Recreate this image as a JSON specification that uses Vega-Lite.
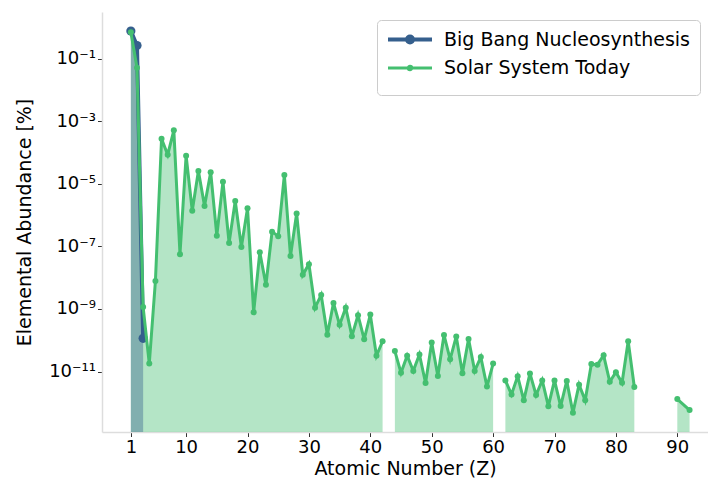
{
  "$schema": "https://vega.github.io/schema/vega-lite/v6.json",
  "autosize": "none",
  "width": 606,
  "height": 420,
  "padding": {"left": 102, "top": 12, "right": 0, "bottom": 50},
  "config": {
    "font": "DejaVu Sans",
    "view": {"stroke": null},
    "axis": {
      "grid": false,
      "domainColor": "#dddddd",
      "domainWidth": 1.5,
      "tickColor": "#333333",
      "tickSize": 4.5,
      "tickWidth": 1,
      "labelFontSize": 18,
      "labelColor": "#000000",
      "labelPadding": 2,
      "labelFlush": false,
      "labelOverlap": false,
      "titleFontSize": 19,
      "titleFontWeight": "normal",
      "titleColor": "#000000"
    },
    "legend": {
      "symbolSize": 100,
      "symbolStrokeWidth": 3,
      "labelFontSize": 19,
      "labelColor": "#000000",
      "labelLimit": 0,
      "labelOffset": 38,
      "rowPadding": 0.5,
      "padding": 10,
      "strokeColor": "#cccccc",
      "fillColor": "#ffffff",
      "cornerRadius": 4
    }
  },
  "datasets": {
    "abundance": [
      {"series": "Big Bang Nucleosynthesis", "Z": 1, "value": 0.76, "seg": "a"},
      {"series": "Big Bang Nucleosynthesis", "Z": 2, "value": 0.26, "seg": "a"},
      {"series": "Big Bang Nucleosynthesis", "Z": 3, "value": 1.15e-10, "seg": "a"},
      {"series": "Solar System Today", "Z": 1, "value": 0.69, "seg": "a"},
      {"series": "Solar System Today", "Z": 2, "value": 0.051, "seg": "a"},
      {"series": "Solar System Today", "Z": 3, "value": 1.15e-9, "seg": "a"},
      {"series": "Solar System Today", "Z": 4, "value": 1.8e-11, "seg": "a"},
      {"series": "Solar System Today", "Z": 5, "value": 7.8e-9, "seg": "a"},
      {"series": "Solar System Today", "Z": 6, "value": 2.75e-4, "seg": "a"},
      {"series": "Solar System Today", "Z": 7, "value": 8.5e-5, "seg": "a"},
      {"series": "Solar System Today", "Z": 8, "value": 5.1e-4, "seg": "a"},
      {"series": "Solar System Today", "Z": 9, "value": 5.6e-8, "seg": "a"},
      {"series": "Solar System Today", "Z": 10, "value": 7.9e-5, "seg": "a"},
      {"series": "Solar System Today", "Z": 11, "value": 1.38e-6, "seg": "a"},
      {"series": "Solar System Today", "Z": 12, "value": 2.57e-5, "seg": "a"},
      {"series": "Solar System Today", "Z": 13, "value": 1.95e-6, "seg": "a"},
      {"series": "Solar System Today", "Z": 14, "value": 2.34e-5, "seg": "a"},
      {"series": "Solar System Today", "Z": 15, "value": 2.2e-7, "seg": "a"},
      {"series": "Solar System Today", "Z": 16, "value": 1.17e-5, "seg": "a"},
      {"series": "Solar System Today", "Z": 17, "value": 1.29e-7, "seg": "a"},
      {"series": "Solar System Today", "Z": 18, "value": 2.8e-6, "seg": "a"},
      {"series": "Solar System Today", "Z": 19, "value": 9.5e-8, "seg": "a"},
      {"series": "Solar System Today", "Z": 20, "value": 1.66e-6, "seg": "a"},
      {"series": "Solar System Today", "Z": 21, "value": 7.8e-10, "seg": "a"},
      {"series": "Solar System Today", "Z": 22, "value": 6.5e-8, "seg": "a"},
      {"series": "Solar System Today", "Z": 23, "value": 5.9e-9, "seg": "a"},
      {"series": "Solar System Today", "Z": 24, "value": 2.95e-7, "seg": "a"},
      {"series": "Solar System Today", "Z": 25, "value": 2.1e-7, "seg": "a"},
      {"series": "Solar System Today", "Z": 26, "value": 1.9e-5, "seg": "a"},
      {"series": "Solar System Today", "Z": 27, "value": 4.9e-8, "seg": "a"},
      {"series": "Solar System Today", "Z": 28, "value": 1.12e-6, "seg": "a"},
      {"series": "Solar System Today", "Z": 29, "value": 1.23e-8, "seg": "a"},
      {"series": "Solar System Today", "Z": 30, "value": 2.7e-8, "seg": "a"},
      {"series": "Solar System Today", "Z": 31, "value": 1.1e-9, "seg": "a"},
      {"series": "Solar System Today", "Z": 32, "value": 2.8e-9, "seg": "a"},
      {"series": "Solar System Today", "Z": 33, "value": 1.5e-10, "seg": "a"},
      {"series": "Solar System Today", "Z": 34, "value": 1.55e-9, "seg": "a"},
      {"series": "Solar System Today", "Z": 35, "value": 3.1e-10, "seg": "a"},
      {"series": "Solar System Today", "Z": 36, "value": 1.1e-9, "seg": "a"},
      {"series": "Solar System Today", "Z": 37, "value": 1.35e-10, "seg": "a"},
      {"series": "Solar System Today", "Z": 38, "value": 6.3e-10, "seg": "a"},
      {"series": "Solar System Today", "Z": 39, "value": 1.07e-10, "seg": "a"},
      {"series": "Solar System Today", "Z": 40, "value": 6.6e-10, "seg": "a"},
      {"series": "Solar System Today", "Z": 41, "value": 3.2e-11, "seg": "a"},
      {"series": "Solar System Today", "Z": 42, "value": 9.3e-11, "seg": "a"},
      {"series": "Solar System Today", "Z": 44, "value": 4.5e-11, "seg": "b"},
      {"series": "Solar System Today", "Z": 45, "value": 9.1e-12, "seg": "b"},
      {"series": "Solar System Today", "Z": 46, "value": 3.2e-11, "seg": "b"},
      {"series": "Solar System Today", "Z": 47, "value": 1.05e-11, "seg": "b"},
      {"series": "Solar System Today", "Z": 48, "value": 3.5e-11, "seg": "b"},
      {"series": "Solar System Today", "Z": 49, "value": 4.3e-12, "seg": "b"},
      {"series": "Solar System Today", "Z": 50, "value": 8.5e-11, "seg": "b"},
      {"series": "Solar System Today", "Z": 51, "value": 7.2e-12, "seg": "b"},
      {"series": "Solar System Today", "Z": 52, "value": 1.48e-10, "seg": "b"},
      {"series": "Solar System Today", "Z": 53, "value": 2.45e-11, "seg": "b"},
      {"series": "Solar System Today", "Z": 54, "value": 1.32e-10, "seg": "b"},
      {"series": "Solar System Today", "Z": 55, "value": 8.9e-12, "seg": "b"},
      {"series": "Solar System Today", "Z": 56, "value": 1.1e-10, "seg": "b"},
      {"series": "Solar System Today", "Z": 57, "value": 1.05e-11, "seg": "b"},
      {"series": "Solar System Today", "Z": 58, "value": 2.9e-11, "seg": "b"},
      {"series": "Solar System Today", "Z": 59, "value": 3.3e-12, "seg": "b"},
      {"series": "Solar System Today", "Z": 60, "value": 1.8e-11, "seg": "b"},
      {"series": "Solar System Today", "Z": 62, "value": 5.2e-12, "seg": "c"},
      {"series": "Solar System Today", "Z": 63, "value": 1.86e-12, "seg": "c"},
      {"series": "Solar System Today", "Z": 64, "value": 7.1e-12, "seg": "c"},
      {"series": "Solar System Today", "Z": 65, "value": 1.2e-12, "seg": "c"},
      {"series": "Solar System Today", "Z": 66, "value": 8.7e-12, "seg": "c"},
      {"series": "Solar System Today", "Z": 67, "value": 1.78e-12, "seg": "c"},
      {"series": "Solar System Today", "Z": 68, "value": 5.2e-12, "seg": "c"},
      {"series": "Solar System Today", "Z": 69, "value": 7.8e-13, "seg": "c"},
      {"series": "Solar System Today", "Z": 70, "value": 5.2e-12, "seg": "c"},
      {"series": "Solar System Today", "Z": 71, "value": 7.9e-13, "seg": "c"},
      {"series": "Solar System Today", "Z": 72, "value": 5.0e-12, "seg": "c"},
      {"series": "Solar System Today", "Z": 73, "value": 4.8e-13, "seg": "c"},
      {"series": "Solar System Today", "Z": 74, "value": 3.8e-12, "seg": "c"},
      {"series": "Solar System Today", "Z": 75, "value": 1.2e-12, "seg": "c"},
      {"series": "Solar System Today", "Z": 76, "value": 1.74e-11, "seg": "c"},
      {"series": "Solar System Today", "Z": 77, "value": 1.66e-11, "seg": "c"},
      {"series": "Solar System Today", "Z": 78, "value": 3.3e-11, "seg": "c"},
      {"series": "Solar System Today", "Z": 79, "value": 4.7e-12, "seg": "c"},
      {"series": "Solar System Today", "Z": 80, "value": 9.5e-12, "seg": "c"},
      {"series": "Solar System Today", "Z": 81, "value": 4.4e-12, "seg": "c"},
      {"series": "Solar System Today", "Z": 82, "value": 9.3e-11, "seg": "c"},
      {"series": "Solar System Today", "Z": 83, "value": 3.2e-12, "seg": "c"},
      {"series": "Solar System Today", "Z": 90, "value": 1.32e-12, "seg": "d"},
      {"series": "Solar System Today", "Z": 92, "value": 5.9e-13, "seg": "d"}
    ]
  },
  "data": {"name": "abundance"},
  "encoding": {
    "x": {
      "field": "Z",
      "type": "quantitative",
      "scale": {"domain": [-3.7, 95], "nice": false, "zero": false},
      "axis": {"values": [1, 10, 20, 30, 40, 50, 60, 70, 80, 90], "title": "Atomic Number (Z)", "titlePadding": 3}
    },
    "y": {
      "field": "value",
      "type": "quantitative",
      "stack": null,
      "scale": {"type": "log", "domain": [1.17e-13, 3.08], "nice": false},
      "axis": {
        "values": [0.1, 0.001, 0.00001, 1e-7, 1e-9, 1e-11],
        "title": "Elemental Abundance [%]",
        "titlePadding": 14,
        "labelExpr": "datum.value > 0.05 ? '10⁻¹' : datum.value > 5e-4 ? '10⁻³' : datum.value > 5e-6 ? '10⁻⁵' : datum.value > 5e-8 ? '10⁻⁷' : datum.value > 5e-10 ? '10⁻⁹' : '10⁻¹¹'"
      }
    },
    "color": {
      "field": "series",
      "type": "nominal",
      "scale": {"domain": ["Big Bang Nucleosynthesis", "Solar System Today"], "range": ["#355f8d", "#44bf70"]},
      "legend": {
        "title": null,
        "orient": "none",
        "legendX": 275,
        "legendY": 8,
        "encode": {
          "symbols": {
            "update": {
              "shape": {"signal": "datum.value === 'Big Bang Nucleosynthesis' ? 'M-1.7,0H7.1M3.3,0A0.6,0.6,0,1,1,2.1,0A0.6,0.6,0,1,1,3.3,0ZM2.7,2.1' : 'M-1.7,0H7.1M3.05,0A0.35,0.35,0,1,1,2.35,0A0.35,0.35,0,1,1,3.05,0ZM2.7,2.1'"},
              "strokeWidth": {"signal": "datum.value === 'Big Bang Nucleosynthesis' ? 4 : 3"},
              "stroke": {"scale": "color", "field": "value"},
              "fill": {"scale": "color", "field": "value"},
              "opacity": {"value": 1},
              "fillOpacity": {"value": 1},
              "strokeOpacity": {"value": 1}
            }
          }
        }
      }
    }
  },
  "layer": [
    {
      "transform": [{"filter": "datum.series === 'Solar System Today'"}],
      "mark": {"type": "area", "opacity": 0.4, "clip": true},
      "encoding": {"detail": {"field": "seg"}}
    },
    {
      "transform": [{"filter": "datum.series === 'Big Bang Nucleosynthesis'"}],
      "mark": {"type": "area", "opacity": 0.4, "clip": true}
    },
    {
      "transform": [{"filter": "datum.series === 'Big Bang Nucleosynthesis'"}],
      "mark": {"type": "line", "strokeWidth": 4, "clip": true}
    },
    {
      "transform": [{"filter": "datum.series === 'Big Bang Nucleosynthesis'"}],
      "mark": {"type": "point", "filled": true, "opacity": 1, "size": 85, "clip": true}
    },
    {
      "transform": [{"filter": "datum.series === 'Solar System Today'"}],
      "mark": {"type": "line", "strokeWidth": 3, "clip": true},
      "encoding": {"detail": {"field": "seg"}}
    },
    {
      "transform": [{"filter": "datum.series === 'Solar System Today'"}],
      "mark": {"type": "point", "filled": true, "opacity": 1, "size": 36, "clip": true}
    }
  ]
}
